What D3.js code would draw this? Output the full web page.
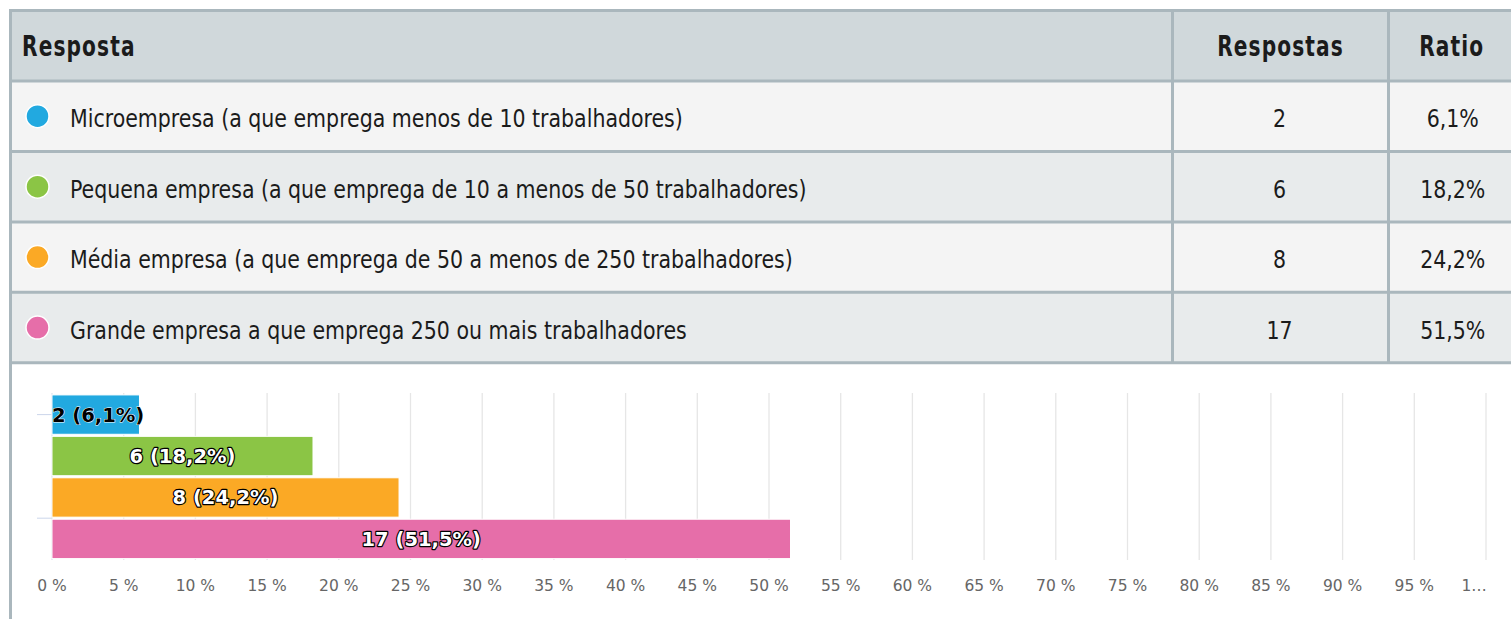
<!DOCTYPE html>
<html>
<head>
<meta charset="utf-8">
<script src="https://cdn.jsdelivr.net/npm/d3@7/dist/d3.min.js"></script>
<style>
  html, body { margin: 0; padding: 0; background: #fff; }
  svg { display: block; }
  .cond { font-family: "Liberation Sans Narrow", "DejaVu Sans Condensed", "Arial Narrow", sans-serif; }
  .chartfont { font-family: "DejaVu Sans", Verdana, sans-serif; }
</style>
</head>
<body>
<svg id="chart" width="1511" height="619"></svg>
<script>
// ---------- data ----------
const headers = ["Resposta", "Respostas", "Ratio"];
const categories = [
  "Microempresa (a que emprega menos de 10 trabalhadores)",
  "Pequena empresa (a que emprega de 10 a menos de 50 trabalhadores)",
  "Média empresa (a que emprega de 50 a menos de 250 trabalhadores)",
  "Grande empresa a que emprega 250 ou mais trabalhadores"
];
const responses = [2, 6, 8, 17];
const ratios = [6.1, 18.2, 24.2, 51.5];
const colors = ["#22a9e0", "#8bc545", "#fba925", "#e66ea9"];
const tickValues = [0, 5, 10, 15, 20, 25, 30, 35, 40, 45, 50, 55, 60, 65, 70, 75, 80, 85, 90, 95, 100];
const tickLabels = ["0 %", "5 %", "10 %", "15 %", "20 %", "25 %", "30 %", "35 %", "40 %", "45 %", "50 %",
  "55 %", "60 %", "65 %", "70 %", "75 %", "80 %", "85 %", "90 %", "95 %", "100 %"];

// ---------- helpers ----------
const fmtPct = v => d3.format(".1f")(v).replace(".", ",") + "%";

const svg = d3.select("#chart");
const W = 1511, H = 619;
const borderColor = "#aab7bd";
const headScale = 0.8;    // horizontal squeeze to imitate a narrow typeface
const bodyScale = 0.895;

// ---------- table ----------
const rowKeys = ["header"].concat(categories);
const rowScale = d3.scaleBand().domain(rowKeys).range([10.5, 10.5 + 70.46 * rowKeys.length]);
const colEdges = [10.5, 1172.5, 1388.5, 1517];
const rowBg = ["#d0d8db", "#f4f4f4", "#e8ebec", "#f4f4f4", "#e8ebec"];

const table = svg.append("g").attr("class", "cond");

table.selectAll("rect.row").data(rowKeys).join("rect")
  .attr("class", "row")
  .attr("x", colEdges[0]).attr("width", W - colEdges[0])
  .attr("y", d => rowScale(d)).attr("height", rowScale.bandwidth())
  .attr("fill", (d, i) => rowBg[i]);

// horizontal lines
const hLines = rowKeys.map(d => rowScale(d)).concat([rowScale(rowKeys[rowKeys.length - 1]) + rowScale.bandwidth()]);
table.selectAll("line.h").data(hLines).join("line")
  .attr("class", "h")
  .attr("x1", colEdges[0] - 1.5).attr("x2", W)
  .attr("y1", d => d).attr("y2", d => d)
  .attr("stroke", borderColor).attr("stroke-width", 3);

// vertical column lines
const tableBottom = hLines[hLines.length - 1];
table.selectAll("line.v").data(colEdges.slice(1, 3)).join("line")
  .attr("class", "v")
  .attr("x1", d => d).attr("x2", d => d)
  .attr("y1", hLines[0]).attr("y2", tableBottom)
  .attr("stroke", borderColor).attr("stroke-width", 3);

// left border continues to bottom
table.append("line")
  .attr("x1", colEdges[0]).attr("x2", colEdges[0])
  .attr("y1", hLines[0] - 1.5).attr("y2", H)
  .attr("stroke", borderColor).attr("stroke-width", 3);

// header texts
const hy = rowScale("header") + rowScale.bandwidth() / 2;
const textColor = "#1b1b1b";
const headPos = [
  { x: 22, anchor: "start" },
  { x: (colEdges[1] + colEdges[2]) / 2, anchor: "middle" },
  { x: (colEdges[2] + colEdges[3]) / 2 - 1, anchor: "middle" }
];
table.selectAll("text.head").data(headers).join("text")
  .attr("class", "head")
  .text(d => d)
  .attr("transform", (d, i) => `translate(${headPos[i].x},${hy}) scale(${headScale},1)`)
  .attr("dy", "0.38em")
  .attr("text-anchor", (d, i) => headPos[i].anchor)
  .attr("font-size", 28).attr("font-weight", "bold").attr("letter-spacing", 1.4)
  .attr("fill", textColor);

// rows
const rows = table.selectAll("g.r").data(categories).join("g")
  .attr("class", "r")
  .attr("transform", d => `translate(0,${rowScale(d) + rowScale.bandwidth() / 2})`);
rows.append("circle")
  .attr("cx", 37.5).attr("cy", 0).attr("r", 11.5)
  .attr("fill", (d, i) => colors[i]).attr("stroke", "#fff").attr("stroke-width", 1.5);
rows.append("text").text(d => d)
  .attr("transform", `translate(70,0) scale(${bodyScale},1)`)
  .attr("dy", "0.44em")
  .attr("font-size", 25.5).attr("fill", textColor);
rows.append("text").text((d, i) => responses[i])
  .attr("transform", `translate(${(colEdges[1] + colEdges[2]) / 2 - 1},0) scale(${bodyScale},1)`)
  .attr("dy", "0.44em")
  .attr("text-anchor", "middle")
  .attr("font-size", 25.5).attr("fill", textColor);
rows.append("text").text((d, i) => fmtPct(ratios[i]))
  .attr("transform", `translate(${(colEdges[2] + colEdges[3]) / 2},0) scale(${bodyScale},1)`)
  .attr("dy", "0.44em")
  .attr("text-anchor", "middle")
  .attr("font-size", 25.5).attr("fill", textColor);

// ---------- bar chart ----------
const x = d3.scaleLinear().domain([0, 100]).range([52, 1486]);
const y = d3.scaleBand().domain(categories).range([394.5, 559]).paddingInner(0.05).paddingOuter(0.01);
const gridTop = 393, gridBottom = 560;

const chart = svg.append("g").attr("class", "chartfont");

// grid lines
chart.selectAll("line.grid").data(tickValues.filter(v => v > 0)).join("line")
  .attr("class", "grid")
  .attr("x1", d => x(d)).attr("x2", d => x(d))
  .attr("y1", gridTop).attr("y2", gridBottom)
  .attr("stroke", "#e6e6e6").attr("stroke-width", 1.3);

// category axis line and ticks
chart.append("line")
  .attr("x1", x(0)).attr("x2", x(0))
  .attr("y1", gridTop).attr("y2", gridBottom)
  .attr("stroke", "#dde3ee").attr("stroke-width", 1.3);
const catTicks = [y(categories[0]) + y.bandwidth() / 2, y(categories[3]) - y.step() * y.paddingInner() / 2];
chart.selectAll("line.ctick").data(catTicks).join("line")
  .attr("class", "ctick")
  .attr("x1", x(0) - 15).attr("x2", x(0))
  .attr("y1", d => d).attr("y2", d => d)
  .attr("stroke", "#ccd6eb").attr("stroke-width", 1);

// bars
chart.selectAll("rect.bar").data(categories).join("rect")
  .attr("class", "bar")
  .attr("x", x(0))
  .attr("y", d => y(d))
  .attr("width", (d, i) => x(ratios[i]) - x(0))
  .attr("height", y.bandwidth())
  .attr("fill", (d, i) => colors[i])
  .attr("stroke", "#fff").attr("stroke-width", 1);

// bar labels
const labels = chart.selectAll("text.blabel").data(categories).join("text")
  .attr("class", "blabel")
  .text((d, i) => `${responses[i]} (${fmtPct(ratios[i])})`)
  .attr("y", d => y(d) + y.bandwidth() / 2)
  .attr("dy", "0.36em")
  .attr("font-size", 19.5).attr("font-weight", "bold")
  .attr("paint-order", "stroke")
  .attr("stroke-linejoin", "round");
labels.each(function (d, i) {
  const t = d3.select(this);
  const w = this.getComputedTextLength();
  const barW = x(ratios[i]) - x(0);
  if (w > barW) {
    t.attr("x", x(0)).attr("text-anchor", "start")
      .attr("fill", "#000").attr("stroke", "#fff").attr("stroke-width", 1);
  } else {
    t.attr("x", x(0) + barW / 2).attr("text-anchor", "middle")
      .attr("fill", "#fff").attr("stroke", "#000").attr("stroke-width", 2.4);
  }
});

// value axis tick labels
const tl = chart.selectAll("text.tick").data(tickValues).join("text")
  .attr("class", "tick")
  .attr("x", d => x(d)).attr("y", 591)
  .attr("text-anchor", "middle")
  .attr("font-size", 15.5).attr("fill", "#666")
  .text((d, i) => tickLabels[i]);
// last label is truncated with an ellipsis, keeping its left edge
tl.filter((d, i) => i === tickValues.length - 1).each(function (d) {
  const w = this.getComputedTextLength();
  const left = x(d) - w / 2;
  d3.select(this).attr("text-anchor", "start").attr("x", left)
    .text(tickLabels[tickLabels.length - 1].charAt(0) + "…");
});
</script>
</body>
</html>
